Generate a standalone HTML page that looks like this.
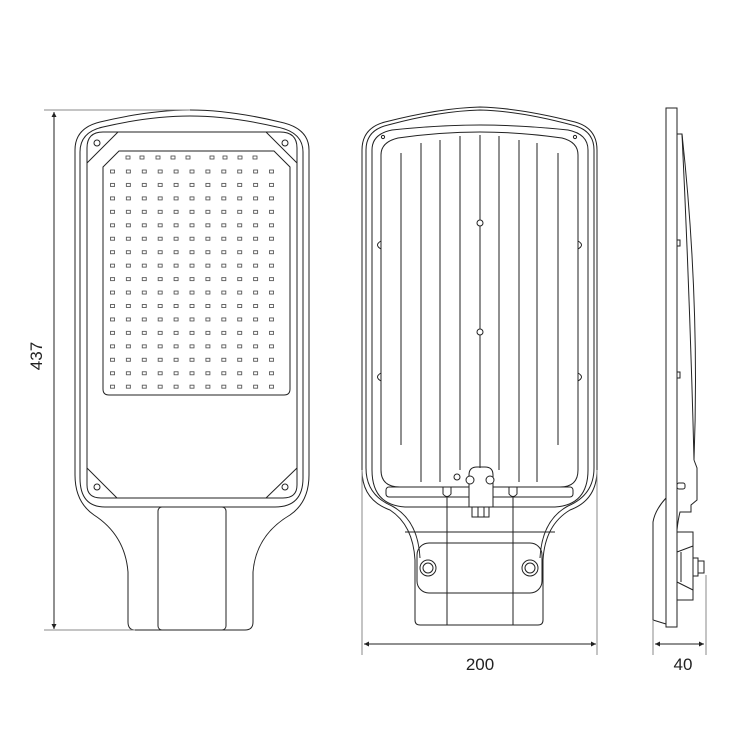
<!DOCTYPE html>
<html><head><meta charset="utf-8"><style>html,body{margin:0;padding:0;background:#fff}svg{display:block}</style></head>
<body>
<svg width="750" height="750" viewBox="0 0 750 750" xmlns="http://www.w3.org/2000/svg">
<defs>
<marker id="ar" viewBox="0 0 10 10" refX="10" refY="5" markerWidth="9" markerHeight="5" orient="auto-start-reverse" markerUnits="userSpaceOnUse">
<path d="M0,0 L10,5 L0,10 z" fill="#222"/></marker>
</defs>
<g fill="none" stroke="#222" stroke-width="1">
<!-- ===== LEFT VIEW ===== -->
<path d="M75,150 Q75,128 100,122 Q150,110 190,110 Q230,110 280,122 Q309,128 309,150 L309,475 Q309,502 290,515 Q256,535 253,572 L253,622 Q253,630 245,630 L135,630 Q128,630 128,622 L128,572 Q125,535 94,515 Q75,502 75,475 Z"/>
<path d="M80,152 Q80,132 103,127 Q150,116 190,116 Q230,116 277,127 Q303,132 303,152 L303,478 Q303,507 275,507 L105,507 Q80,507 80,478 Z"/>
<path d="M87,148 Q87,132 103,132 L280,132 Q297,132 297,148 L297,485 Q297,498 283,498 L101,498 Q87,498 87,485 Z"/>
<line x1="87" y1="163" x2="118" y2="132"/><line x1="297" y1="163" x2="266" y2="132"/>
<line x1="87" y1="468" x2="117" y2="498"/><line x1="297" y1="468" x2="266" y2="498"/>
<circle cx="97" cy="143" r="3"/><circle cx="285" cy="143" r="3"/>
<circle cx="97" cy="487" r="3"/><circle cx="285" cy="487" r="3"/>
<path d="M103,167 L119,151 L274,151 L290,167 L290,389 Q290,395 284,395 L109,395 Q103,395 103,389 Z"/>
<rect x="158" y="507" width="68" height="123" rx="4"/>
<line x1="54" y1="112" x2="54" y2="629" marker-start="url(#ar)" marker-end="url(#ar)"/>
<line x1="44" y1="110" x2="190" y2="110" stroke="#888"/>
<line x1="44" y1="630" x2="135" y2="630" stroke="#888"/>
<!-- ===== MIDDLE VIEW ===== -->
<path d="M362,150 Q362,128 385,122 Q440,108 480,107 Q520,108 575,122 Q597,128 597,150 L597,470 Q597,500 570,510 Q545,525 543,560 L543,620 Q543,625 538,625 L420,625 Q415,625 415,620 L415,560 Q413,525 390,510 Q362,500 362,470 Z"/>
<path d="M366,150 Q366,130 388,125 Q440,111 480,110 Q520,111 572,125 Q594,130 594,150 L594,468 Q594,495 568,506 Q542,520 540,558 M366,150 L366,468 Q366,495 392,506 Q418,520 420,558"/>
<path d="M372,150 Q372,134 392,130 Q440,125 480,125 Q520,125 568,130 Q588,134 588,150 L588,470 Q588,505 555,507 L405,507 Q372,505 372,470 Z"/>
<path d="M381,155 Q381,142 398,138 Q440,132 480,132 Q520,132 562,138 Q578,142 578,155 L578,470 Q578,487 560,487 L400,487 Q381,487 381,470 Z"/>
<rect x="386" y="487" width="187" height="10" rx="3"/>
<line x1="405" y1="532" x2="555" y2="532"/>
<rect x="417" y="543" width="125" height="50" rx="12"/>
<circle cx="428" cy="568" r="8"/><circle cx="428" cy="568" r="5"/>
<circle cx="530" cy="568" r="8"/><circle cx="530" cy="568" r="5"/>
<line x1="447" y1="497" x2="447" y2="625"/><line x1="513" y1="497" x2="513" y2="625"/>
<path d="M443,487 L443,494 Q447,499 451,494 L451,487"/><path d="M509,487 L509,494 Q513,499 517,494 L517,487"/>
<path d="M469,507 L469,475 Q469,467 477,467 L485,467 Q493,467 493,475 L493,507 Z" fill="#fff"/>
<circle cx="470" cy="480" r="4" fill="#fff"/><circle cx="490" cy="480" r="4" fill="#fff"/><circle cx="457" cy="477" r="3"/>
<rect x="472" y="507" width="17" height="10"/><line x1="478" y1="507" x2="478" y2="517"/><line x1="484" y1="507" x2="484" y2="517"/>
<path d="M401,153V445M421,143V482M440,140V482M460,136V470M480,135V220M480,226V329M480,335V468M499,136V470M519,140V482M537,143V482M558,153V445"/>
<circle cx="480" cy="223" r="3"/><circle cx="480" cy="332" r="3"/>
<circle cx="383" cy="137" r="1.6"/><circle cx="575" cy="137" r="1.6"/>
<path d="M381,241 Q374,245 381,249"/><path d="M381,373 Q374,377 381,381"/>
<path d="M578,241 Q585,245 578,249"/><path d="M578,373 Q585,377 578,381"/>
<line x1="364" y1="644" x2="596" y2="644" marker-start="url(#ar)" marker-end="url(#ar)"/>
<line x1="362" y1="470" x2="362" y2="655" stroke="#888"/><line x1="597" y1="470" x2="597" y2="655" stroke="#888"/>
<!-- ===== SIDE VIEW ===== -->
<rect x="666" y="108" width="11" height="519"/>
<path d="M677,134 L682,134 Q690,300 694,460"/>
<path d="M682,134 Q700,300 694,460"/>
<rect x="677" y="240" width="3" height="6"/><rect x="677" y="372" width="3" height="6"/>
<path d="M694,460 L697,468 L697,500 L691,505 L691,512 L680,512 Q678,520 677,530"/>
<rect x="677" y="483" width="8" height="6" rx="2"/>
<path d="M666,498 Q655,510 653,522 L653,620 L666,624"/>
<path d="M677,532 L693,532 L693,600 L677,600 M677,552 L693,546 M677,582 L693,590 M681,552 V582"/>
<rect x="693" y="558" width="5" height="18"/><rect x="698" y="561" width="6" height="12"/>
<line x1="655" y1="644" x2="704" y2="644" marker-start="url(#ar)" marker-end="url(#ar)"/>
<line x1="653" y1="620" x2="653" y2="655" stroke="#888"/><line x1="706" y1="575" x2="706" y2="655" stroke="#888"/>
</g>
<g font-family="'Liberation Sans', sans-serif" font-size="17" fill="#222" text-anchor="middle">
<text x="480" y="670">200</text>
<text x="683" y="670">40</text>
<text transform="translate(42,356) rotate(-90)">437</text>
</g>
<g fill="none" stroke="#444" stroke-width="0.8">
<rect x="126" y="156" width="4" height="3"/><rect x="140" y="156" width="4" height="3"/><rect x="156" y="156" width="4" height="3"/><rect x="171" y="156" width="4" height="3"/><rect x="186" y="156" width="4" height="3"/><rect x="210" y="156" width="4" height="3"/><rect x="223" y="156" width="4" height="3"/><rect x="238" y="156" width="4" height="3"/><rect x="253" y="156" width="4" height="3"/>
</g>
<defs><pattern id="lp" x="110" y="169.5" width="15.9" height="13.45" patternUnits="userSpaceOnUse"><rect x="0.5" y="0.5" width="4" height="3" fill="none" stroke="#444" stroke-width="0.8"/></pattern></defs>
<rect x="110" y="169.5" width="170" height="228" fill="url(#lp)"/>
</svg>
</body></html>
